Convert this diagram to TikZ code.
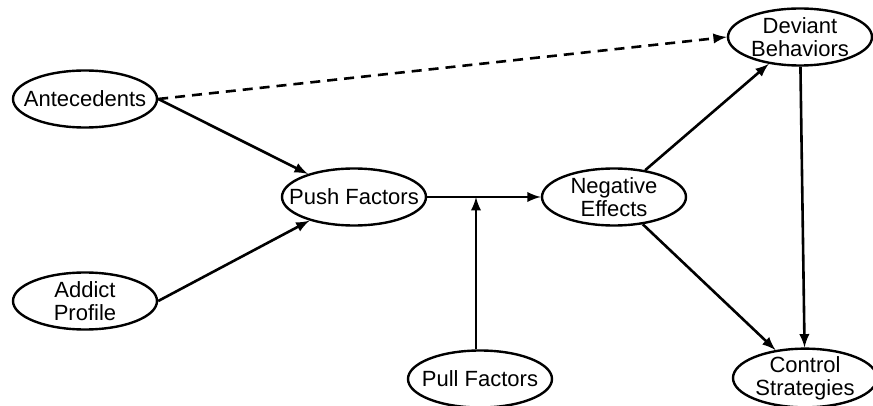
\documentclass[tikz,border=0pt]{standalone}
\usepackage{fontspec}
\setmainfont{Liberation Sans}
\usetikzlibrary{arrows,shapes.geometric}

\begin{document}
\begin{tikzpicture}[x=0.5pt,y=-0.5pt,
	factor/.style={ellipse,draw,line width=1.2pt,align=center,inner xsep=-10pt,inner ysep=-0.5pt,
		minimum width=72pt,minimum height=28.5pt,font=\fontsize{11}{11.5}\selectfont},
	link/.style={-latex,line width=1.3pt}]
	\useasboundingbox (0,0) rectangle (873,406);
	\node[factor] (ante) at (85,99) {Antecedents};
	\node[factor] (addict) at (85,301) {Addict\\Profile};
	\node[factor] (push) at (354,197) {Push Factors};
	\node[factor] (pull) at (480,379) {Pull Factors};
	\node[factor] (neg) at (614,197) {Negative\\Effects};
	\node[factor] (dev) at (800,37) {Deviant\\Behaviors};
	\node[factor] (ctrl) at (805,378) {Control\\Strategies};
	\coordinate (join) at (476,197);
	\draw[link,dash pattern=on 5pt off 3.5pt] (ante.east) -- (dev.west);
	\draw[link] (ante.east) -- (push);
	\draw[link] (addict.east) -- (push);
	\draw[link] (push) -- (neg);
	\draw[link] (pull.north -| join) -- (join);
	\draw[link] (neg) -- (dev);
	\draw[link] (neg) -- (ctrl);
	\draw[link] (dev) -- (ctrl);
\end{tikzpicture}
\end{document}
